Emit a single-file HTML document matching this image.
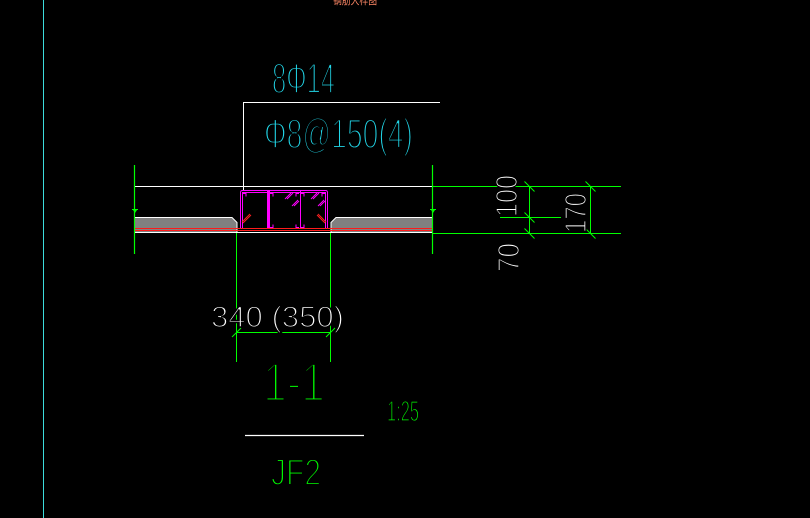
<!DOCTYPE html>
<html>
<head>
<meta charset="utf-8">
<style>
  html,body{margin:0;padding:0;background:#000;}
  body{width:810px;height:518px;overflow:hidden;}
  svg{display:block;}
  text{font-family:"Liberation Sans","Noto Sans CJK SC",sans-serif;stroke:#000;paint-order:fill stroke;}
</style>
</head>
<body>
<svg width="810" height="518" viewBox="0 0 810 518" xmlns="http://www.w3.org/2000/svg">
  <rect x="0" y="0" width="810" height="518" fill="#000"/>

  <!-- left cyan border line -->
  <line x1="43.5" y1="0" x2="43.5" y2="518" stroke="#3cdcdc" stroke-width="1"/>

  <!-- clipped title at top -->
  <text x="333" y="4" font-size="11" fill="#ff8866" stroke-width="0" textLength="44" lengthAdjust="spacingAndGlyphs">钢筋大样图</text>

  <!-- leader lines (white) -->
  <line x1="243" y1="102.5" x2="440" y2="102.5" stroke="#fff" stroke-width="1"/>
  <line x1="243.5" y1="102" x2="243.5" y2="190" stroke="#fff" stroke-width="1"/>

  <!-- rebar labels -->
  <text x="272" y="93" font-size="43" fill="#22d8ea" stroke-width="2.2" textLength="63" lengthAdjust="spacingAndGlyphs">8Φ14</text>
  <text x="264" y="148" font-size="42" fill="#22d8ea" stroke-width="2.2" textLength="149" lengthAdjust="spacingAndGlyphs">Φ8@150(4)</text>

  <!-- slab top line -->
  <line x1="134" y1="186.5" x2="432" y2="186.5" stroke="#fff" stroke-width="1"/>
  <line x1="432" y1="186.5" x2="621" y2="186.5" stroke="#00ff00" stroke-width="1"/>
  <line x1="432" y1="233.5" x2="621" y2="233.5" stroke="#00ff00" stroke-width="1"/>

  <!-- gray slabs -->
  <polygon points="135,217 232,217 237,222 237,232 135,232" fill="#808080"/>
  <polyline points="135,217.5 232,217.5 237,222.5 237,232" fill="none" stroke="#fff" stroke-width="1"/>
  <polygon points="432,217 336,217 331,222 331,232 432,232" fill="#808080"/>
  <polyline points="432,217.5 336,217.5 331,222.5 331,232" fill="none" stroke="#fff" stroke-width="1"/>

  <!-- bottom white line -->
  <line x1="134" y1="232.5" x2="432" y2="232.5" stroke="#fff" stroke-width="1"/>

  <!-- magenta stirrup cage -->
  <g stroke="#ff00ff" stroke-width="1" fill="none">
    <path d="M240.5,229 L240.5,192.5 Q240.5,190.5 242.5,190.5 L325.5,190.5 Q327.5,190.5 327.5,192.5 L327.5,229"/>
    <path d="M242.5,229 L242.5,192.5 L325.5,192.5 L325.5,229"/>
    <line x1="267.5" y1="190" x2="267.5" y2="229"/>
    <line x1="268.5" y1="190" x2="268.5" y2="229"/>
    <line x1="269.5" y1="190" x2="269.5" y2="229"/>
    <line x1="300.5" y1="190" x2="300.5" y2="229"/>
    <!-- corner hooks -->
    <path d="M243,193.5 h3 v3"/>
    <path d="M270,193.5 h3 v3"/>
    <path d="M299,193.5 h-3 v3"/>
    <path d="M301,193.5 h3 v3"/>
    <path d="M325,193.5 h-3 v3"/>
    <path d="M270,227.5 h3 v-3"/>
    <path d="M299,227.5 h-3 v-3"/>
    <path d="M301,227.5 h3 v-3"/>
    <!-- diagonal hatches -->
    <line x1="285" y1="199" x2="291" y2="193"/>
    <line x1="287" y1="199" x2="293" y2="193"/>
    <line x1="292" y1="206" x2="298" y2="200"/>
    <line x1="294" y1="206" x2="299" y2="201"/>
    <line x1="311" y1="199" x2="317" y2="193"/>
    <line x1="313" y1="199" x2="319" y2="193"/>
    <line x1="318" y1="206" x2="324" y2="200"/>
    <line x1="320" y1="206" x2="325" y2="201"/>
  </g>

  <!-- red diagonals -->
  <g stroke="#ff2020" stroke-width="1">
    <line x1="242" y1="222" x2="250" y2="214"/>
    <line x1="243" y1="223" x2="251" y2="215"/>
    <line x1="318" y1="214" x2="326" y2="222"/>
    <line x1="317" y1="215" x2="325" y2="223"/>
  </g>

  <!-- red bottom bars -->
  <line x1="134" y1="228.5" x2="433" y2="228.5" stroke="#ff1a1a" stroke-width="1"/>
  <line x1="134" y1="230.5" x2="433" y2="230.5" stroke="#ff1a1a" stroke-width="1"/>

  <!-- green verticals at slab ends -->
  <g stroke="#00ff00" stroke-width="1.2">
    <line x1="134.5" y1="165" x2="134.5" y2="254"/>
    <line x1="432.5" y1="165" x2="432.5" y2="254"/>
  </g>
  <!-- level flags -->
  <g fill="#00ff00">
    <rect x="132" y="209" width="6" height="1"/>
    <polygon points="133,210 137,210 135,213"/>
    <rect x="430" y="209" width="6" height="1"/>
    <polygon points="431,210 435,210 433,213"/>
  </g>

  <!-- width dimension -->
  <g stroke="#00ff00" stroke-width="1">
    <line x1="236.5" y1="233" x2="236.5" y2="362"/>
    <line x1="330.5" y1="233" x2="330.5" y2="362"/>
    <line x1="236" y1="332.5" x2="331" y2="332.5"/>
    <line x1="232" y1="337" x2="241" y2="328"/>
    <line x1="326" y1="337" x2="335" y2="328"/>
  </g>
  <text x="211" y="327" font-size="30" fill="#fff" stroke-width="1.5" textLength="133" lengthAdjust="spacingAndGlyphs">340 (350)</text>

  <!-- right thickness dimensions -->
  <g stroke="#00ff00" stroke-width="1">
    <line x1="529.5" y1="186" x2="529.5" y2="234"/>
    <line x1="590.5" y1="186" x2="590.5" y2="234"/>
    <line x1="500" y1="217.5" x2="561" y2="217.5"/>
    <line x1="524.5" y1="181.5" x2="534.5" y2="191.5"/>
    <line x1="524.5" y1="212.5" x2="534.5" y2="222.5"/>
    <line x1="524.5" y1="228.5" x2="534.5" y2="238.5"/>
    <line x1="585.5" y1="181.5" x2="595.5" y2="191.5"/>
    <line x1="585.5" y1="228.5" x2="595.5" y2="238.5"/>
  </g>
  <text transform="translate(517,217) rotate(-90)" x="0" y="0" font-size="31" fill="#fff" stroke-width="1.5" textLength="42" lengthAdjust="spacingAndGlyphs">100</text>
  <text transform="translate(519,272) rotate(-90)" x="0" y="0" font-size="31" fill="#fff" stroke-width="1.5" textLength="29" lengthAdjust="spacingAndGlyphs">70</text>
  <text transform="translate(586,233) rotate(-90)" x="0" y="0" font-size="31" fill="#fff" stroke-width="1.5" textLength="40" lengthAdjust="spacingAndGlyphs">170</text>

  <!-- section title -->
  <text x="263" y="401" font-size="55" fill="#00ff00" stroke-width="3.2" textLength="62" lengthAdjust="spacingAndGlyphs">1-1</text>
  <text x="387" y="421" font-size="29" fill="#00ff00" stroke-width="1.4" textLength="32" lengthAdjust="spacingAndGlyphs">1:25</text>
  <line x1="245" y1="435.5" x2="364" y2="435.5" stroke="#fff" stroke-width="1.2"/>
  <text x="271" y="485" font-size="37" fill="#00ff00" stroke-width="2" textLength="50" lengthAdjust="spacingAndGlyphs">JF2</text>
</svg>
</body>
</html>
